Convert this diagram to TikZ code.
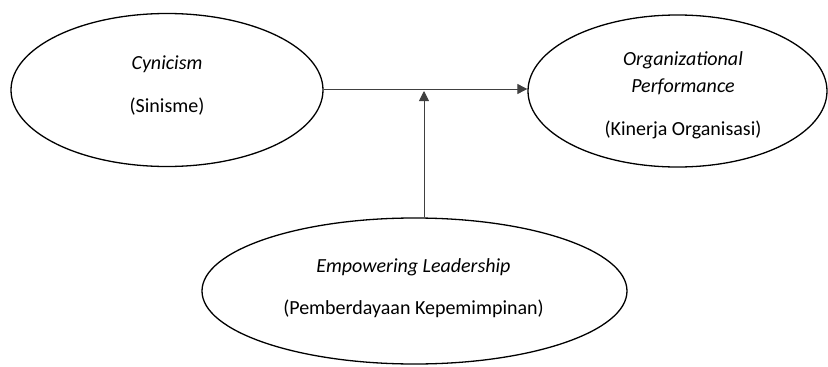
\documentclass[tikz,border=0pt]{standalone}
\usepackage{fontspec}
\setmainfont{Carlito}
\usetikzlibrary{shapes.geometric,arrows.meta}
\begin{document}
\begin{tikzpicture}[x=1pt,y=-1pt,
  construct/.style={ellipse,draw,line width=1.3pt,inner sep=0pt},
  label/.style={anchor=base,inner sep=0pt,font=\fontsize{20}{24}\selectfont},
  link/.style={line width=0.9pt,draw=black!75,-{Triangle[length=10pt,width=10pt]}}]
  \useasboundingbox (0,0) rectangle (828,367);
  % constructs
  \node[construct,minimum width=312pt,minimum height=153pt] (cyn) at (167,90) {};
  \node[construct,minimum width=299pt,minimum height=152pt] (perf) at (677.5,91) {};
  \node[construct,minimum width=425pt,minimum height=146pt] (lead) at (414.5,291) {};
  % construct names
  \node[label] (cynA) at (167,69) {\itshape Cynicism};
  \node[label] (cynB) at (167,112) {(Sinisme)};
  \node[label] (perfA) at (683,65) {\itshape Organizational};
  \node[label] (perfB) at (683,92) {\itshape Performance};
  \node[label] (perfC) at (683,135) {(Kinerja Organisasi)};
  \node[label] (leadA) at (413.5,272) {\itshape Empowering Leadership};
  \node[label] (leadB) at (413.5,314) {(Pemberdayaan Kepemimpinan)};
  % paths
  \draw[link] (cyn.east |- 0,89) -- (perf.west |- 0,89);
  \coordinate (mod) at (424,91);
  \draw[link] ([xshift=9.5pt]lead.north) -- (mod);
\end{tikzpicture}
\end{document}
